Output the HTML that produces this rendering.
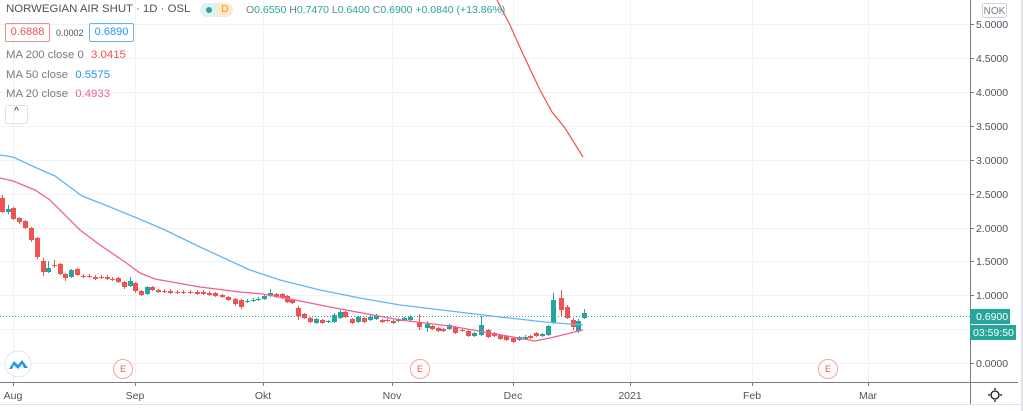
<!DOCTYPE html>
<html><head><meta charset="utf-8"><style>
body{margin:0;width:1023px;height:411px;overflow:hidden;background:#fff;font-family:"Liberation Sans",sans-serif;}
</style></head><body>
<svg id="s" width="1023" height="411" xmlns="http://www.w3.org/2000/svg" style="position:absolute;left:0;top:0">
<g stroke="#eef3f7" stroke-width="1">
<line x1="0" y1="24.5" x2="970" y2="24.5"/><line x1="0" y1="58.5" x2="970" y2="58.5"/><line x1="0" y1="92.5" x2="970" y2="92.5"/><line x1="0" y1="126.5" x2="970" y2="126.5"/><line x1="0" y1="160.5" x2="970" y2="160.5"/><line x1="0" y1="194.5" x2="970" y2="194.5"/><line x1="0" y1="228.5" x2="970" y2="228.5"/><line x1="0" y1="261.5" x2="970" y2="261.5"/><line x1="0" y1="295.5" x2="970" y2="295.5"/><line x1="0" y1="329.5" x2="970" y2="329.5"/><line x1="0" y1="363.5" x2="970" y2="363.5"/>
<line x1="13.5" y1="0" x2="13.5" y2="382"/><line x1="135.5" y1="0" x2="135.5" y2="382"/><line x1="263.5" y1="0" x2="263.5" y2="382"/><line x1="392.5" y1="0" x2="392.5" y2="382"/><line x1="513.5" y1="0" x2="513.5" y2="382"/><line x1="630.5" y1="0" x2="630.5" y2="382"/><line x1="752.5" y1="0" x2="752.5" y2="382"/><line x1="868.5" y1="0" x2="868.5" y2="382"/>
</g>
<line x1="0" y1="316.5" x2="970" y2="316.5" stroke="#26a69a" stroke-width="1" stroke-dasharray="1,2"/>
<g id="c"></g>
<polyline fill="none" stroke="#64b5f6" stroke-width="1.3" points="0,155 13,157 30,165 55,176 82,196 100,203 137,218 165,230 200,247 250,270 280,280 320,290 360,298 400,305 450,311 500,317 545,322 570,324 583,325"/>
<polyline fill="none" stroke="#f06292" stroke-width="1.3" points="0,178 13,181 35,190 50,200 80,230 100,245 125,262 140,273 155,279 200,287 240,292 263,294 285,298 330,307 400,320 450,326 490,333 535,341 550,338 583,330"/>
<polyline fill="none" stroke="#ef5350" stroke-width="1.2" points="497,0 510,25 522,52 540,90 552,112 565,128 583,157"/>
<line x1="970.5" y1="0" x2="970.5" y2="404" stroke="#787b86"/>
<line x1="0" y1="382.5" x2="1018" y2="382.5" stroke="#787b86"/>
<line x1="0" y1="404.5" x2="1023" y2="404.5" stroke="#e0e3eb"/>
<rect x="1021" y="0" width="2" height="411" fill="#e0e3eb"/>
<g stroke="#787b86"><line x1="970" y1="24.5" x2="974" y2="24.5"/><line x1="970" y1="58.5" x2="974" y2="58.5"/><line x1="970" y1="92.5" x2="974" y2="92.5"/><line x1="970" y1="126.5" x2="974" y2="126.5"/><line x1="970" y1="160.5" x2="974" y2="160.5"/><line x1="970" y1="194.5" x2="974" y2="194.5"/><line x1="970" y1="228.5" x2="974" y2="228.5"/><line x1="970" y1="261.5" x2="974" y2="261.5"/><line x1="970" y1="295.5" x2="974" y2="295.5"/><line x1="970" y1="363.5" x2="974" y2="363.5"/>
<line x1="13.5" y1="382" x2="13.5" y2="386"/><line x1="135.5" y1="382" x2="135.5" y2="386"/><line x1="263.5" y1="382" x2="263.5" y2="386"/><line x1="392.5" y1="382" x2="392.5" y2="386"/><line x1="513.5" y1="382" x2="513.5" y2="386"/><line x1="630.5" y1="382" x2="630.5" y2="386"/><line x1="752.5" y1="382" x2="752.5" y2="386"/><line x1="868.5" y1="382" x2="868.5" y2="386"/></g>
<g font-size="10.5" fill="#50535e">
<text x="976" y="28">5.0000</text><text x="976" y="62">4.5000</text><text x="976" y="96">4.0000</text><text x="976" y="130">3.5000</text><text x="976" y="164">3.0000</text><text x="976" y="198">2.5000</text><text x="976" y="232">2.0000</text><text x="976" y="265">1.5000</text><text x="976" y="299">1.0000</text><text x="976" y="367">0.0000</text>
<text x="13" y="399" text-anchor="middle">Aug</text><text x="135" y="399" text-anchor="middle">Sep</text><text x="263" y="399" text-anchor="middle">Okt</text><text x="392" y="399" text-anchor="middle">Nov</text><text x="513" y="399" text-anchor="middle">Dec</text><text x="630" y="399" text-anchor="middle">2021</text><text x="752" y="399" text-anchor="middle">Feb</text><text x="868" y="399" text-anchor="middle">Mar</text>
</g>
<rect x="982.5" y="3.5" width="24" height="14" rx="2" fill="#fff" stroke="#d1d4dc"/><text x="994.5" y="14" font-size="10" fill="#787b86" text-anchor="middle">NOK</text>
<rect x="970" y="309" width="40" height="15" fill="#26a69a"/><text x="976" y="320" font-size="10.5" fill="#fff">0.6900</text>
<rect x="970" y="325" width="46" height="15" fill="#26a69a"/><text x="973" y="336" font-size="10.5" fill="#fff">03:59:50</text>
<g fill="none" stroke="#f7a1a1" stroke-width="1"><circle cx="123" cy="369" r="9.5"/><circle cx="420" cy="369" r="9.5"/><circle cx="828" cy="369" r="9.5"/></g>
<g font-size="9" fill="#ef5350" text-anchor="middle"><text x="123" y="372">E</text><text x="420" y="372">E</text><text x="828" y="372">E</text></g>
<circle cx="18" cy="364" r="13" fill="#fff" stroke="#e0e3eb"/>
<path d="M9,369 L14,361 L18,365 L22,360 L28,368 L24,368 L22,364 L18,369 L14,365 L12,369Z" fill="#2196f3"/>
<circle cx="995" cy="395" r="4" fill="none" stroke="#131722" stroke-width="1.3"/>
<g stroke="#131722" stroke-width="1.3"><line x1="995" y1="388" x2="995" y2="390"/><line x1="995" y1="400" x2="995" y2="402"/><line x1="988" y1="395" x2="990" y2="395"/><line x1="1000" y1="395" x2="1002" y2="395"/></g>
</svg>
<div style="position:absolute;left:6px;top:3px;font-size:11.4px;color:#50535e;white-space:nowrap">NORWEGIAN AIR SHUT · 1D · OSL</div>
<div style="position:absolute;left:200px;top:3px;width:33px;height:14px;border-radius:7px;background:#e0f2ef"></div>
<div style="position:absolute;left:217px;top:3px;width:16px;height:14px;border-radius:0 7px 7px 0;background:#fde8cc;color:#ff9800;font-size:10px;text-align:center;line-height:14px">D</div>
<div style="position:absolute;left:206px;top:7px;width:6px;height:6px;border-radius:3px;background:#26a69a"></div>
<div style="position:absolute;left:246px;top:4px;font-size:10.5px;color:#26a69a;white-space:nowrap"><span style="color:#787b86">O</span>0.6550 <span style="color:#787b86">H</span>0.7470 <span style="color:#787b86">L</span>0.6400 <span style="color:#787b86">C</span>0.6900 +0.0840 (+13.86%)</div>
<div style="position:absolute;left:5px;top:23px;width:43px;height:17px;border:1px solid #f28b8b;border-radius:2px;color:#ef5350;font-size:11px;text-align:center;line-height:17px">0.6888</div>
<div style="position:absolute;left:56px;top:28px;font-size:9px;color:#50535e">0.0002</div>
<div style="position:absolute;left:89px;top:23px;width:43px;height:17px;border:1px solid #64b5f6;border-radius:2px;color:#2196f3;font-size:11px;text-align:center;line-height:17px">0.6890</div>
<div style="position:absolute;left:6px;top:49px;font-size:11.4px;color:#787b86;white-space:nowrap">MA 200 close 0 <span style="color:#ef5350;margin-left:4px">3.0415</span></div>
<div style="position:absolute;left:6px;top:69px;font-size:11.4px;color:#787b86;white-space:nowrap">MA 50 close <span style="color:#2196f3;margin-left:4px">0.5575</span></div>
<div style="position:absolute;left:6px;top:88px;font-size:11.4px;color:#787b86;white-space:nowrap">MA 20 close <span style="color:#f06292;margin-left:4px">0.4933</span></div>
<div style="position:absolute;left:5px;top:105px;width:21px;height:17px;border:1px solid #e0e3eb;border-radius:2px;font-size:10px;text-align:center;color:#131722">^</div>
<script>
var d=[[2,198,212,195,213],[8,212,209,205,214],[13,208,219,207,220],[19,218,222,217,224],[25,221,228,220,229],[31,228,240,227,242],[37,238,257,237,259],[43,261,272,258,276],[48,272,268,261,273],[54,265,266,260,268],[60,264,274,263,275],[65,274,278,273,281],[71,277,270,269,278],[77,269,275,268,276],[83,276,277,274,278],[89,276,277,274,278],[95,277,279,275,280],[101,277,278,275,279],[107,277,279,275,280],[112,279,280,277,281],[118,278,282,277,283],[124,282,287,281,289],[130,286,281,277,287],[135,283,291,282,293],[141,291,295,290,296],[147,294,287,286,295],[152,287,290,286,291],[158,290,292,289,293],[164,291,292,289,293],[170,291,293,289,294],[177,292,293,290,294],[183,292,293,290,294],[190,292,293,290,294],[197,292,294,290,295],[203,292,294,290,295],[209,293,295,291,296],[215,293,296,292,297],[222,295,297,294,298],[228,297,300,296,301],[235,299,304,298,306],[241,300,307,299,309],[247,302,301,299,303],[253,301,300,298,302],[258,300,299,297,301],[264,299,296,295,300],[270,296,293,289,297],[276,294,297,293,298],[282,294,298,293,299],[287,296,302,295,303],[292,300,303,299,304],[298,308,316,306,320],[304,314,318,313,319],[310,318,322,317,323],[316,323,319,318,324],[322,320,323,319,324],[328,322,321,320,323],[334,322,315,313,323],[340,318,312,310,319],[345,312,317,311,318],[352,319,323,318,324],[358,322,317,316,323],[364,318,322,317,323],[370,320,317,315,321],[376,319,316,314,320],[382,320,322,319,323],[387,320,321,319,322],[393,321,323,320,324],[398,321,319,318,322],[404,320,318,317,321],[410,320,317,315,321],[419,322,327,314,330],[427,328,324,321,332],[432,326,329,325,330],[438,328,331,327,332],[443,329,331,328,332],[449,329,325,324,330],[455,327,333,326,334],[462,330,331,329,332],[468,331,336,330,337],[474,336,333,332,337],[481,335,325,316,336],[488,330,337,329,338],[494,333,336,332,337],[500,335,339,334,340],[506,336,340,335,341],[513,338,342,337,343],[519,340,337,336,341],[525,339,337,335,340],[530,336,338,335,339],[536,333,336,332,337],[542,336,334,333,337],[548,335,326,325,336],[553,323,300,293,324],[561,298,310,290,316],[567,307,318,305,319],[573,320,327,318,330],[578,331,321,319,333],[584,318,313,309,319]];
var g=document.getElementById('c'),h='';
d.forEach(function(a){var up=a[2]<a[1],col=up?'#26a69a':'#ef5350',t=Math.min(a[1],a[2]),b=Math.max(a[1],a[2]);
h+='<line x1="'+(a[0]+.5)+'" y1="'+a[3]+'" x2="'+(a[0]+.5)+'" y2="'+a[4]+'" stroke="'+col+'" stroke-width="1"/>';
h+='<rect x="'+(a[0]-2)+'" y="'+t+'" width="5" height="'+Math.max(1,b-t)+'" fill="'+col+'"/>';});
g.innerHTML=h;
</script>
</body></html>
